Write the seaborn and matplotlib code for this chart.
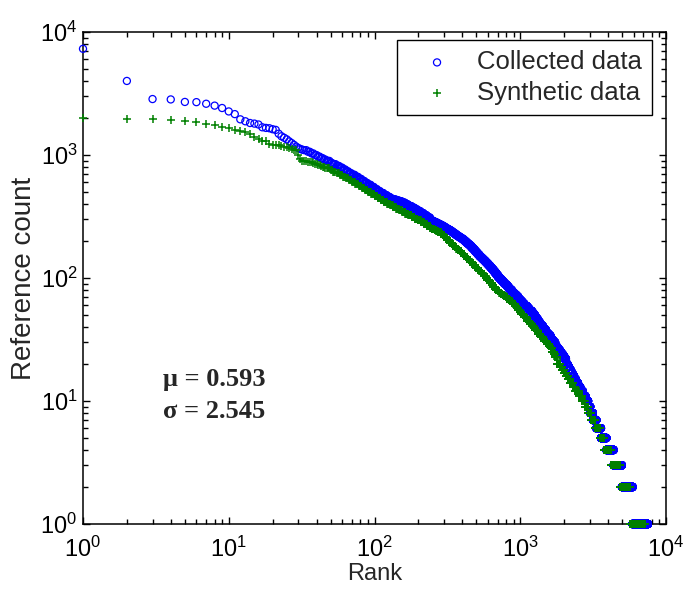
import numpy as np
import pandas as pd
import matplotlib
matplotlib.use("Agg")
import matplotlib.pyplot as plt
import seaborn as sns

# ---------------- data ----------------
# Collected data: ranks 1..32 read point by point
blue_head_counts = [7300, 4000, 2850, 2830, 2700, 2690, 2610, 2520, 2410, 2260,
                    2150, 1950, 1880, 1820, 1800, 1770, 1680, 1660, 1650, 1620,
                    1600, 1490, 1420, 1380, 1340, 1290, 1250, 1210, 1170, 1140,
                    1120, 1105]
# Collected data: band read as runs -> rank at which each count level starts
blue_band_ranks = [33, 35, 37, 39, 41, 43, 45, 47, 50, 52, 55, 58, 61, 64, 67,
                   70, 74, 78, 82, 86, 90, 95, 100, 105, 110, 116, 122, 128, 134, 141,
                   148, 155, 163, 171, 180, 189, 198, 208, 218, 229,
                   241, 247, 253, 259, 266, 272, 279, 286, 293, 300,
                   308, 315, 323, 331, 339, 347, 356, 365, 374, 383,
                   392, 402, 412, 422, 432, 442, 453, 464, 476, 488,
                   500, 512, 525, 538, 551, 565, 579, 593, 608, 623,
                   638, 654, 670, 686, 703, 720, 738, 756, 775, 794,
                   814, 834, 855, 876, 898, 920, 943, 966, 990, 1015,
                   1040, 1066, 1092, 1119, 1147, 1175, 1204, 1234, 1264, 1295,
                   1327, 1360, 1393, 1428, 1463, 1499, 1536, 1574, 1613, 1653,
                   1694, 1736, 1779, 1823, 1868, 1914, 1961, 2010, 2059]
blue_band_counts = [1095, 1062, 1030, 999, 970, 943, 918, 895, 862, 842, 815, 789, 762, 736, 712,
                    690, 664, 639, 615, 593, 572, 549, 527, 508, 490, 472, 456, 441, 434, 426,
                    419, 409, 396, 384, 372, 360, 348, 336, 323, 310,
                    296, 292, 288, 284, 280, 276, 272, 268, 264, 259,
                    254, 250, 246, 242, 237, 232, 227, 222, 218, 214,
                    210, 206, 201, 196, 191, 187, 182, 176, 171, 165,
                    160, 155, 150, 146, 142, 138, 134, 130, 126, 122,
                    118, 114, 110, 106, 102, 99, 96, 93, 90, 88,
                    85, 82, 80, 77, 75, 73, 71, 68, 66, 64,
                    62, 60, 59, 57, 55, 54, 52, 50, 48, 46,
                    44, 42, 41, 39, 38, 36, 35, 34, 32, 31,
                    30, 28, 27, 26, 25, 24, 23, 22, 21]
# Collected data: low counts, last rank holding each count
blue_tail_counts = [20, 19, 18, 17, 16, 15, 14, 13, 12, 11, 10, 9, 8, 7, 6, 5, 4, 3, 2, 1]
blue_tail_last_rank = [2110, 2160, 2215, 2275, 2340, 2410, 2490, 2580, 2690, 2800,
                       2920, 3020, 3150, 3330, 3580, 3900, 4370, 4980, 5900, 7500]

# Synthetic data: ranks 1..46 read point by point
green_head_counts = [2000, 1960, 1960, 1910, 1880, 1840, 1790, 1750, 1690, 1665,
                     1610, 1570, 1535, 1480, 1400, 1350, 1310, 1300, 1220, 1215,
                     1210, 1195, 1185, 1170, 1160, 1140, 1125, 1105, 1090, 1000,
                     920, 895, 890, 888, 885, 880, 872, 860, 852, 842,
                     832, 822, 813, 804, 795, 787]
green_band_ranks = [47, 50, 52, 55, 58, 61, 64, 67, 70, 74, 78, 82, 86, 90, 95,
                    100, 105, 110, 116, 122, 128, 134, 141, 148, 155, 163, 171, 180, 189, 198,
                    208, 218, 229,
                    241, 247, 253, 259, 266, 272, 279, 286, 293, 300,
                    308, 315, 323, 331, 339, 347, 356, 365, 374, 383,
                    392, 402, 412, 422, 432, 442, 453, 464, 476, 488,
                    500, 512, 525, 538, 551, 565, 579, 593, 608, 623,
                    638, 654, 670, 686, 703, 720, 738, 756, 775, 794,
                    814, 834, 855, 876, 898, 920, 943, 966, 990, 1015,
                    1040, 1066, 1092, 1119, 1147, 1175, 1204, 1234, 1264, 1295,
                    1327, 1360, 1393, 1428, 1463, 1499, 1536, 1574, 1613, 1653,
                    1694, 1736, 1779]
green_band_counts = [778, 750, 734, 712, 691, 667, 645, 624, 605, 581, 560, 540, 520, 502, 482,
                     463, 446, 431, 416, 403, 390, 379, 366, 355, 345, 333, 323, 313, 303, 294,
                     285, 275, 266,
                     256, 252, 249, 245, 241, 238, 235, 229, 223, 216,
                     210, 204, 198, 193, 188, 183, 178, 173, 169, 165,
                     161, 157, 152, 147, 143, 139, 136, 132, 128, 124,
                     120, 117, 114, 110, 107, 103, 100, 97, 94, 91,
                     88, 85, 82, 80, 78, 76, 74, 73, 71, 70,
                     68, 66, 65, 63, 61, 59, 57, 55, 53, 51,
                     50, 48, 47, 45, 44, 42, 41, 39, 38, 37,
                     35, 34, 33, 32, 31, 30, 29, 28, 27, 25,
                     24, 23, 22]
green_tail_counts = [20, 19, 18, 17, 16, 15, 14, 13, 12, 11, 10, 9, 8, 7, 6, 5, 4, 3, 2, 1]
green_tail_last_rank = [1870, 1925, 1985, 2050, 2120, 2200, 2290, 2390, 2510, 2640,
                        2760, 2900, 3060, 3260, 3500, 3780, 4200, 4820, 5650, 7150]

series_labels = ["Collected data", "Synthetic data"]
x_label = "Rank"
y_label = "Reference count"
mu_text = "\u03bc = 0.593"
sigma_text = "\u03c3 = 2.545"


def expand_runs(counts, last_ranks, first_rank):
    """Every item in a run of equal counts gets its own rank."""
    rr, cc = [], []
    start = first_rank
    for cnt, last in zip(counts, last_ranks):
        ranks = np.arange(start, last + 1)
        rr.append(ranks)
        cc.append(np.full(ranks.size, cnt))
        start = last + 1
    return np.concatenate(rr), np.concatenate(cc)


def build(head_counts, band_ranks, band_counts, tail_counts, tail_last):
    head_r = np.arange(1, len(head_counts) + 1)
    band_last = list(np.array(band_ranks[1:]) - 1) + [band_ranks[-1]]
    band_r, band_c = expand_runs(band_counts, band_last, band_ranks[0])
    tail_r, tail_c = expand_runs(tail_counts, tail_last, band_ranks[-1] + 1)
    r = np.concatenate([head_r, band_r, tail_r])
    c = np.concatenate([head_counts, band_c, tail_c])
    return pd.DataFrame({"rank": r, "count": c})


df_blue = build(blue_head_counts, blue_band_ranks, blue_band_counts,
                blue_tail_counts, blue_tail_last_rank)
df_green = build(green_head_counts, green_band_ranks, green_band_counts,
                 green_tail_counts, green_tail_last_rank)

# ---------------- style ----------------
sns.set_style("ticks")
plt.rcParams["font.family"] = ["Liberation Sans", "DejaVu Sans"]
plt.rcParams["mathtext.fontset"] = "custom"
plt.rcParams["mathtext.rm"] = "Liberation Sans"
plt.rcParams["mathtext.it"] = "Liberation Sans:italic"
plt.rcParams["mathtext.bf"] = "Liberation Sans:bold"

W, H = 686, 589
fig = plt.figure(figsize=(W / 100, H / 100), dpi=100)
ax = fig.add_axes([83 / W, 1 - 524 / H, (666 - 83) / W, (524 - 32) / H])

sns.scatterplot(data=df_blue, x="rank", y="count", ax=ax, marker="o", s=26,
                color="#0000ff", facecolor="none", edgecolor="#0000ff",
                linewidth=0.9, label=series_labels[0], clip_on=False, zorder=3)
sns.scatterplot(data=df_green, x="rank", y="count", ax=ax, marker="+", s=34,
                color="#008000", linewidth=1.1, label=series_labels[1],
                clip_on=False, zorder=4)

ax.set_xscale("log")
ax.set_yscale("log")
ax.set_xlim(1, 1e4)
ax.set_ylim(1, 1e4)

for sp in ax.spines.values():
    sp.set_visible(True)
    sp.set_linewidth(1.1)
    sp.set_color("black")

ax.tick_params(which="both", direction="in", top=True, right=True,
               bottom=True, left=True, color="black", labelcolor="black", width=1.0)
ax.tick_params(which="major", length=5.3, labelsize=17)
ax.tick_params(which="minor", length=3.3)
ax.tick_params(axis="x", which="major", pad=9)
ax.tick_params(axis="y", which="major", pad=4)

ax.set_xlabel(x_label, fontsize=17, labelpad=1)
ax.set_ylabel(y_label, fontsize=20, labelpad=2)

leg = ax.legend(loc="upper right", bbox_to_anchor=(0.976, 0.984), fontsize=18.5,
                frameon=True, fancybox=False, edgecolor="black", framealpha=1,
                borderpad=0.4, handlelength=2.3, handletextpad=0.4,
                labelspacing=0.25, scatterpoints=1, borderaxespad=0)
leg.get_frame().set_linewidth(1.0)

fig.text(163 / W, 1 - 386 / H, mu_text, fontsize=19, fontweight="bold",
         family=["Liberation Serif", "DejaVu Serif"], va="baseline", ha="left")
fig.text(163 / W, 1 - 418 / H, sigma_text, fontsize=19, fontweight="bold",
         family=["Liberation Serif", "DejaVu Serif"], va="baseline", ha="left")

fig.savefig("out.png", dpi=100)
